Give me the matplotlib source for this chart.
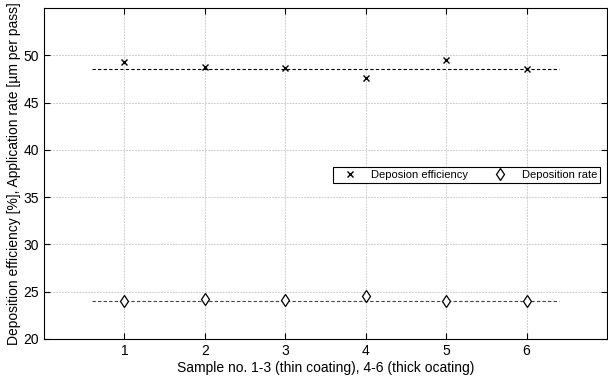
import matplotlib
matplotlib.use("Agg")
import matplotlib.pyplot as plt
import numpy as np

plt.rcParams['font.family'] = ['Liberation Sans', 'DejaVu Sans']

samples = [1, 2, 3, 4, 5, 6]
efficiency = [49.3, 48.8, 48.7, 47.6, 49.5, 48.5]
rate = [24.0, 24.2, 24.1, 24.5, 24.0, 24.0]
mean_efficiency = 48.6
mean_rate = 24.0
xticks = [1, 2, 3, 4, 5, 6]
yticks = [20, 25, 30, 35, 40, 45, 50]

fig = plt.figure(figsize=(6.08, 3.8), dpi=100)
ax = fig.add_axes([0.0724, 0.108, 0.926, 0.871])

ax.plot([0.6, 6.4], [mean_efficiency, mean_efficiency], ls=(0, (3, 2)), color='black', lw=0.8)
ax.plot([0.6, 6.4], [mean_rate, mean_rate], ls=(0, (3, 2)), color='#444444', lw=0.8)
ax.plot(samples, efficiency, 'x', color='black', ms=4, mew=1.0, label='Deposion efficiency')
ax.plot(samples, rate, 'd', color='black', mfc='white', ms=6, mew=0.9, label='Deposition rate')

ax.set_xlim(0, 7)
ax.set_ylim(20, 55)
ax.set_xticks(xticks)
ax.set_yticks(yticks)
ax.tick_params(direction='in', top=True, right=True, labelsize=10, length=4, width=0.8)
ax.grid(True, ls=(0, (2, 1)), color='#d0d0d0', lw=0.7)
for s in ax.spines.values():
    s.set_linewidth(0.8)

ax.set_xlabel('Sample no. 1-3 (thin coating), 4-6 (thick ocating)', fontsize=10, labelpad=2)
ax.set_ylabel('Deposition efficiency [%], Application rate [µm per pass]', fontsize=10, labelpad=2)

leg = ax.legend(loc='center', bbox_to_anchor=(0.751, 0.495), ncol=2, fontsize=8,
                frameon=True, fancybox=False, edgecolor='black', framealpha=1,
                handlelength=2.3, columnspacing=1.7, borderpad=0.3, handletextpad=0.8)
leg.get_frame().set_linewidth(0.8)

fig.savefig('out.png', dpi=100)
